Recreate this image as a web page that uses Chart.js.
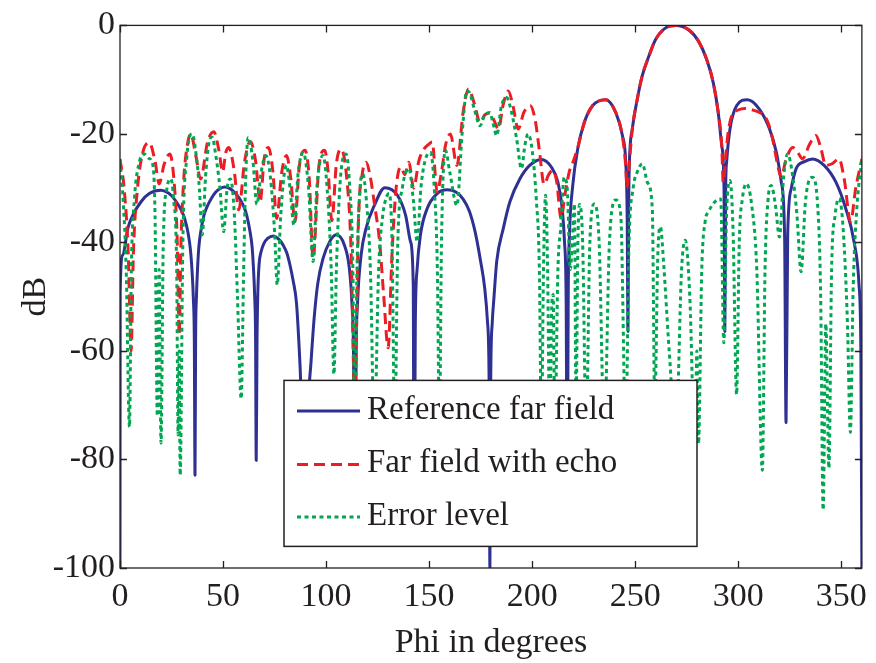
<!DOCTYPE html>
<html>
<head>
<meta charset="utf-8">
<script src="https://cdn.jsdelivr.net/npm/chart.js@4"></script>
<style>
html,body{margin:0;padding:0;background:#fff;}
#wrap{position:relative;width:876px;height:663px;}
canvas{display:block;}
</style>
</head>
<body>
<div id="wrap"><canvas id="c" width="876" height="663"></canvas></div>
<script>
// ---- data ----
const xTicks = [0, 50, 100, 150, 200, 250, 300, 350];
const yTicks = [-100, -80, -60, -40, -20, 0];
const seriesNames = ['Reference far field', 'Far field with echo', 'Error level'];

const refPhi = [0,0.1,1.35,3.8,6.2,10.2,14.2,19.8,22.3,24.8,27.3,29.8,31.4,33.1,34.2,34.9,35.6,36.07,36.4,36.69,37.12,37.7,38.27,39.28,40.72,42.16,44.32,46.48,48.64,50.8,53.1,55.4,58,60.2,61.5,63,64.1,64.7,65.34,65.79,66.1,66.5,66.9,67.5,68.4,69.8,71.8,74.4,77,79.2,81,82.5,84,85.6,86.6,87.8,89.5,91,92.7,94.2,96,98.5,101.7,104.9,108.9,111.3,112.5,113.3,114,114.6,115.3,117,119.4,123.4,128.5,134.6,138.6,141,142.3,142.7,143.3,144.2,145.8,149,153.9,158.7,163,166.5,169.5,172.3,175,177,178.3,179.1,179.5,179.9,180.6,181.5,182.8,186,189.2,194,198.8,204.4,209.3,212.5,214.6,215.7,216.5,217,217.5,218.1,219.7,222.1,225.3,229.3,235.7,240.6,243.8,245.4,246.1,246.5,246.8,247.1,248.6,251,253.4,256.6,259.9,264.6,269.8,275.9,280.7,284.7,287.9,290.3,292,293.1,293.5,293.9,294.4,296,299.2,304.5,310.4,315.2,318.5,320.9,322.5,323.2,324,325.7,328.1,332.1,336.1,341.7,347.4,352.2,356.2,358.6,359.5,360];
const refDb = [-100,-49,-42.3,-37.4,-35,-32.5,-31,-30.4,-30.65,-31.3,-32.5,-34.1,-35.6,-38.4,-41.4,-44.9,-50.4,-58.4,-82.9,-57.8,-49.8,-44.3,-40.8,-37.8,-35,-33.5,-31.9,-30.7,-30.05,-29.8,-30.05,-30.7,-31.9,-33.5,-35,-37.8,-40.8,-44.3,-49.8,-57.8,-80.2,-58,-49,-44,-41.8,-40.2,-39.2,-38.8,-39.4,-40.5,-42,-44.2,-47,-51,-57,-67,-95,-72,-62,-54,-47.5,-43,-39.9,-38.6,-40.5,-44.8,-50.9,-60,-95,-60,-50.9,-42.3,-37.4,-33.2,-29.9,-31.3,-35,-39.9,-47.8,-95,-55,-44.8,-38.6,-33.8,-31,-30.3,-30.7,-32,-34.2,-38,-43.5,-48.5,-54.5,-65,-100,-65,-55,-50,-43.5,-37.4,-32.5,-28.3,-25.8,-24.7,-26.1,-28.9,-33.8,-39.9,-50.9,-90,-50,-38.6,-29.5,-22.8,-17.9,-14.8,-13.7,-16.1,-20.3,-25.2,-35,-56.4,-35,-26.4,-19.1,-13.6,-9.3,-5.7,-2.6,-0.5,0,-0.8,-2.9,-6.3,-10.6,-16.1,-22.2,-30,-56.4,-30,-25,-19.1,-14.8,-13.7,-15.5,-19.1,-23.4,-28.9,-38.6,-73.2,-38.6,-30.1,-26.4,-25.1,-24.6,-25.8,-28.9,-33.8,-39.9,-47.8,-60,-100];

const echoPhi = [0,2,4,5.4,6.5,8.5,11,14.2,17,19,21.5,24.2,26.5,27.8,28.7,29.6,31,32.5,34.3,36.8,39.1,42.5,45.5,48,49.8,51.3,52.7,55.5,57.6,60.5,63.2,65.8,68,70,72,74.2,76,78.5,80.8,82.8,84.9,87,89.7,91.8,93.7,96.5,99.3,101,102.8,105,107.3,110,112,113.9,115.8,117.5,119.4,121.5,123.5,126,128,130.1,132,134,136.2,138.2,140.2,142.5,145,147.5,149.5,151.5,153.9,156,158,160.3,163.5,166.5,169.1,172,174.7,177,179.5,181.5,183.6,186,188.4,190.8,193.2,196,199.1,201.5,203.5,205.8,208,210,212,214,216,218,220,222.1,225.3,229.3,235.7,240.6,243.8,245.4,246,247,248.6,251,253.4,256.6,259.9,264.6,269.8,275.9,280.7,284.7,287.9,290.3,292,292.7,294,295,296.8,300,303.2,307,310,312.8,315,317,319,320.8,323,326.4,329,331.2,334.5,337.7,340,342.5,345.5,348.9,351.5,354.5,357,360];
const echoDb = [-24.6,-30,-42,-60,-42,-30,-23.5,-21.6,-25,-29.2,-25.5,-23.7,-30,-40,-57,-40,-28,-22.5,-20,-24,-28.3,-21.5,-19.6,-23,-27,-23.5,-22.5,-27,-34,-25,-21.4,-25,-32.5,-24.5,-22.5,-27,-35.6,-27,-24,-28,-36.2,-26,-23,-28,-42.9,-26,-23,-27,-36,-25.5,-22.8,-28,-40,-68,-35,-27.5,-25.2,-28,-33,-40,-50,-59.4,-42,-30,-26.1,-27.5,-25.2,-30,-25,-22.8,-22,-21.5,-30.7,-27,-22,-20,-25.8,-16,-11.7,-14.5,-17.9,-16.5,-16.1,-17.5,-19.1,-14.5,-12.1,-15,-19.1,-16,-14.8,-17.5,-23,-29.3,-27.5,-26.7,-29,-35.6,-31,-27,-25,-22.5,-17.9,-14.8,-13.7,-16.1,-20.5,-26,-30,-26,-19.1,-13.6,-9.3,-5.7,-2.6,-0.5,0,-0.8,-2.9,-6.3,-10.6,-16.1,-22.2,-28.9,-24,-20,-16.7,-15.6,-15.3,-15.6,-16,-16.7,-18.5,-21.5,-25.5,-28,-25,-22.5,-23.5,-24.6,-22,-20.3,-22.5,-25.8,-25.5,-24.6,-28.5,-36.2,-30,-24.6];

const errPhi = [0,1.5,3,4.6,5.5,7,9.5,11.8,14,15.8,17,18.1,19,19.9,21,22.8,24.7,26,27.5,28.2,28.7,29.2,30.5,32.5,35,37,38.5,39.9,41.5,43,44.7,46.5,48.5,50.3,52,53.6,55.5,57,58.8,60,61,62.2,64.5,66.4,68.5,70.8,73,75,76.3,78,79.5,80.8,82.5,84.4,86.5,88.9,91.5,93.7,95.5,98.5,100.5,102.5,103.8,105,107,109.7,111.5,113,113.9,115,116.5,117.8,119.5,121.5,123.4,125.5,127.5,129,130.6,132,133.3,134.8,137,140.2,142.3,144.2,146,148,150.7,152.5,154,155,156,157.9,160,163.5,166,168.3,169.5,172,174.7,177,179.5,181,182.8,185,187.6,190,192.5,194.8,196.5,198,200,202,203.5,204.5,205.5,206.5,207.5,208.5,209.5,210.2,211,212.5,214,215.5,217,218.5,219.5,220.5,221.3,222.2,223,224.5,226.2,228,230.2,232.5,235,237.5,240.6,243,245.4,247,249,251,253.5,256,258.3,259.5,261,262.2,264,266.5,269.8,272.5,274.3,276.5,279.1,279.9,280.7,282.3,284,285.5,288.7,291.5,293,294.3,296,297.5,299.2,300.5,302,304,306.5,309,311.7,313,314.5,316,318,320,322,324,326.5,328.5,330.5,332.5,334,336,338.5,340,341.2,342.5,344,345.3,347,349,351,353,354.4,355.8,357.5,360];
const errDb = [-24.9,-32,-45,-74,-45,-32,-25,-23.7,-24.5,-25.5,-35,-72,-45,-77,-40,-30,-28.3,-32,-45,-75.5,-60,-82.9,-40,-24,-20,-24,-30,-38.6,-28,-22,-20.6,-24,-30,-38,-30,-28.3,-35,-50,-68.8,-45,-28,-20.7,-25,-33,-27,-24,-28,-38,-47.8,-35,-28,-25.8,-30,-36.8,-27,-23.4,-30,-43.5,-30,-24,-30,-45,-64.3,-45,-28,-23.7,-30,-45,-75,-45,-30,-27.4,-32,-45,-75,-45,-35,-32,-31,-40,-75,-40,-30,-26.4,-32,-39.9,-30,-25,-23.4,-30,-45,-75,-40,-23,-27,-33.2,-20,-12.1,-12.3,-15.5,-18.5,-16.5,-16.1,-18,-20.3,-15,-13.3,-16,-21,-26.4,-22,-20,-23,-32,-45,-75,-45,-31.3,-45,-75,-52,-49.6,-75,-45,-36.8,-28,-30,-45,-40,-32.9,-70,-40,-33,-40,-75,-40,-32.9,-40,-75,-40,-32.2,-35,-75,-40,-30,-27,-25.5,-29,-33.8,-70,-42,-37.1,-45,-60,-75,-45,-39.6,-50,-79.6,-60,-77.1,-45,-36,-34.4,-32.5,-32,-58.5,-35,-28.6,-38,-68,-40,-32,-29.2,-33,-45,-82,-45,-32,-29.5,-33,-39,-28,-23.7,-28,-35,-45.4,-33,-29,-28,-33,-50,-89.3,-55,-81.6,-45,-35,-31.9,-38,-55,-75,-48,-34,-24.6];

// ---- chart ----
const INK = '#231f20';
const FONT = 'Liberation Serif, Times New Roman, serif';
const COLORS = ['#2e3192', '#ed1c24', '#00a651'];
const DASHES = [[], [11, 6], [4, 3.5]];

const toXY = (xs, ys) => xs.map((x, i) => ({x: x, y: ys[i]}));

const framePlugin = {
  id: 'frameAndLegend',
  afterDatasetsDraw(chart) {
    const ctx = chart.ctx;
    const a = chart.chartArea;
    const xs = chart.scales.x, ys = chart.scales.y;
    ctx.save();
    ctx.strokeStyle = INK;
    ctx.lineWidth = 1.3;
    ctx.setLineDash([]);
    ctx.strokeRect(a.left, a.top, a.right - a.left, a.bottom - a.top);
    const tl = 7;
    ctx.beginPath();
    xTicks.forEach(v => {
      const px = Math.round(xs.getPixelForValue(v)) + 0.5;
      ctx.moveTo(px, a.bottom); ctx.lineTo(px, a.bottom - tl);
      ctx.moveTo(px, a.top); ctx.lineTo(px, a.top + tl);
    });
    yTicks.forEach(v => {
      const py = Math.round(ys.getPixelForValue(v)) + 0.5;
      ctx.moveTo(a.left, py); ctx.lineTo(a.left + tl, py);
      ctx.moveTo(a.right, py); ctx.lineTo(a.right - tl, py);
    });
    ctx.stroke();

    // legend box inside the plot
    const L = a.left + 164, T = a.top + 355, W = 413, H = 166;
    ctx.fillStyle = '#ffffff';
    ctx.fillRect(L, T, W, H);
    ctx.lineWidth = 1.5;
    ctx.strokeStyle = INK;
    ctx.strokeRect(L, T, W, H);
    const rows = [30.5, 84, 136.5];
    ctx.font = '33px ' + FONT;
    ctx.textBaseline = 'middle';
    ctx.textAlign = 'left';
    seriesNames.forEach((name, i) => {
      const y = T + rows[i];
      ctx.beginPath();
      ctx.strokeStyle = COLORS[i];
      ctx.lineWidth = 3;
      ctx.setLineDash(DASHES[i]);
      ctx.moveTo(L + 13, y); ctx.lineTo(L + 76, y);
      ctx.stroke();
      ctx.setLineDash([]);
      ctx.fillStyle = INK;
      ctx.fillText(name, L + 83, y - 1);
    });
    ctx.restore();
  }
};

new Chart(document.getElementById('c'), {
  type: 'line',
  data: {
    datasets: [
      {label: seriesNames[0], data: toXY(refPhi, refDb), borderColor: COLORS[0], borderWidth: 3, borderDash: DASHES[0], order: 3},
      {label: seriesNames[1], data: toXY(echoPhi, echoDb), borderColor: COLORS[1], borderWidth: 3, borderDash: DASHES[1], order: 2},
      {label: seriesNames[2], data: toXY(errPhi, errDb), borderColor: COLORS[2], borderWidth: 3, borderDash: DASHES[2], order: 1}
    ]
  },
  options: {
    responsive: false,
    animation: false,
    events: [],
    layout: {padding: {left: 0, right: 8, top: 22, bottom: 0}},
    elements: {
      point: {radius: 0},
      line: {cubicInterpolationMode: 'monotone', fill: false, borderCapStyle: 'butt', borderJoinStyle: 'round'}
    },
    plugins: {legend: {display: false}, tooltip: {enabled: false}},
    scales: {
      x: {
        type: 'linear', min: 0, max: 360,
        afterBuildTicks: s => { s.ticks = xTicks.map(v => ({value: v})); },
        afterFit: s => { s.height = 95; },
        grid: {display: false, drawTicks: false}, border: {display: false},
        ticks: {color: INK, font: {family: FONT, size: 34}, padding: 9, maxRotation: 0, autoSkip: false},
        title: {display: true, text: 'Phi in degrees', color: INK, font: {family: FONT, size: 34}, padding: 0}
      },
      y: {
        type: 'linear', min: -100, max: 0,
        afterBuildTicks: s => { s.ticks = yTicks.map(v => ({value: v})); },
        afterFit: s => { s.width = 120; },
        grid: {display: false, drawTicks: false}, border: {display: false},
        ticks: {color: INK, font: {family: FONT, size: 34}, padding: 5, autoSkip: false},
        title: {display: true, text: 'dB', color: INK, font: {family: FONT, size: 34}, padding: 16}
      }
    }
  },
  plugins: [framePlugin]
});
</script>
</body>
</html>
